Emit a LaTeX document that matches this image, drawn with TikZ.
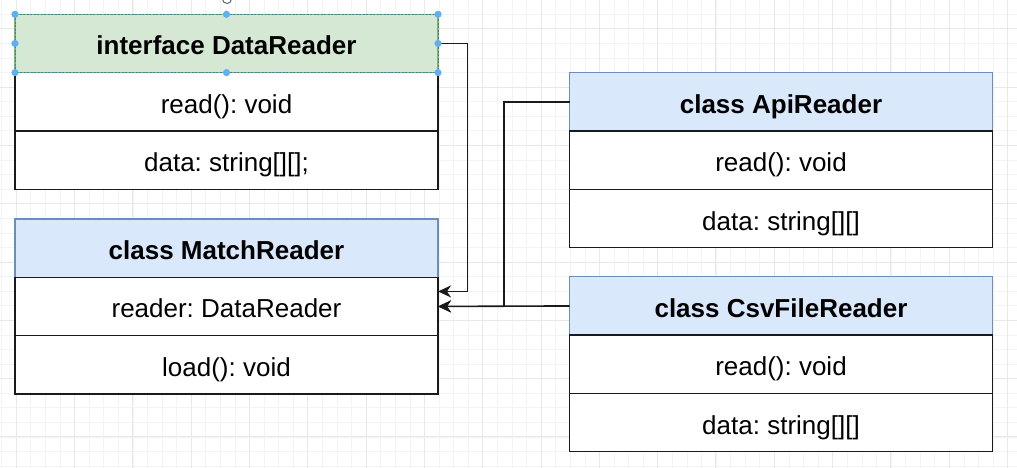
\documentclass[tikz,border=0pt]{standalone}
\usepackage{fontspec}
\setmainfont{Liberation Sans}
\frenchspacing
\usetikzlibrary{arrows.meta}
\definecolor{hdrblue}{HTML}{DAE8FC}
\definecolor{hdrblueline}{HTML}{6C8EBF}
\definecolor{hdrgreen}{HTML}{D5E8D4}
\definecolor{hdrgreenline}{HTML}{82B366}
\definecolor{handle}{HTML}{5FB0EE}
\definecolor{gridminor}{HTML}{F4F4F4}
\definecolor{gridmajor}{HTML}{E8E8E8}
\definecolor{ink}{HTML}{1A1A1A}
\begin{document}
\begin{tikzpicture}[x=1pt,y=-1pt,
  box/.style={rectangle, draw=ink, line width=1.3pt, fill=white,
    minimum width=423pt, minimum height=58.3pt, inner sep=0pt, outer sep=0pt,
    text height=23pt, text depth=0pt, font=\fontsize{26}{30}\selectfont},
  hdrb/.style={box, fill=hdrblue, draw=hdrblueline, font=\fontsize{26}{30}\selectfont\bfseries},
  hdrg/.style={box, fill=hdrgreen, draw=hdrgreenline, font=\fontsize{26}{30}\selectfont\bfseries},
  conn/.style={draw=ink, line width=1.6pt, -{Stealth[length=13pt,width=12pt,inset=4pt]}},
  gminor/.style={draw=gridminor, line width=0.6pt},
  gmajor/.style={draw=gridmajor, line width=0.8pt}
]
\fill[white] (0,0) rectangle (1017,468);
\useasboundingbox (0,0) rectangle (1017,468);
% grid
\foreach \i in {0,...,69} { \draw[gminor] ({1.6+\i*14.58},0) -- ++(0,468); }
\foreach \i in {0,...,32} { \draw[gminor] (0,{-0.46+\i*14.58}) -- ++(1017,0); }
\foreach \i in {0,...,17} { \draw[gmajor] ({16.2+\i*58.3},0) -- ++(0,468); }
\foreach \i in {0,...,7} { \draw[gmajor] (0,{28.7+\i*58.3}) -- ++(1017,0); }

% interface DataReader
\node[box, anchor=north west] (drA) at (15,72.6) {read(): void};
\node[box, anchor=north] (drB) at (drA.south) {data: string[][];};
\node[hdrg, anchor=south] (drH) at (drA.north) {interface DataReader};
\draw[handle!70!black, line width=0.8pt, dash pattern=on 2pt off 1.5pt] (drH.south west) rectangle (drH.north east);

% class MatchReader
\node[hdrb, anchor=north west] (mrH) at (15,219) {class MatchReader};
\node[box, anchor=north] (mrA) at (mrH.south) {reader: DataReader};
\node[box, anchor=north] (mrB) at (mrA.south) {load(): void};

% class ApiReader
\node[hdrb, anchor=north west] (apH) at (569.5,72.8) {class ApiReader};
\node[box, anchor=north] (apA) at (apH.south) {read(): void};
\node[box, anchor=north] (apB) at (apA.south) {data: string[][]};

% class CsvFileReader
\node[hdrb, anchor=north west] (csH) at (569.5,276.8) {class CsvFileReader};
\node[box, anchor=north] (csA) at (csH.south) {read(): void};
\node[box, anchor=north] (csB) at (csA.south) {data: string[][]};

% connectors
\draw[conn] (drH.east) -- ++(29.5,0) |- ([yshift=15pt]mrA.east);
\draw[conn] (apH.west) -- ++(-65.5,0) |- (mrA.east);
\draw[conn] (csH.west) -- (mrA.east);

% selection handles
\foreach \p in {north west, north, north east, west, east, south west, south, south east}
  { \fill[handle] (drH.\p) circle (3.6pt); }
\draw[black!60, line width=1pt] (227,-1) circle (4.5pt);
\end{tikzpicture}
\end{document}
